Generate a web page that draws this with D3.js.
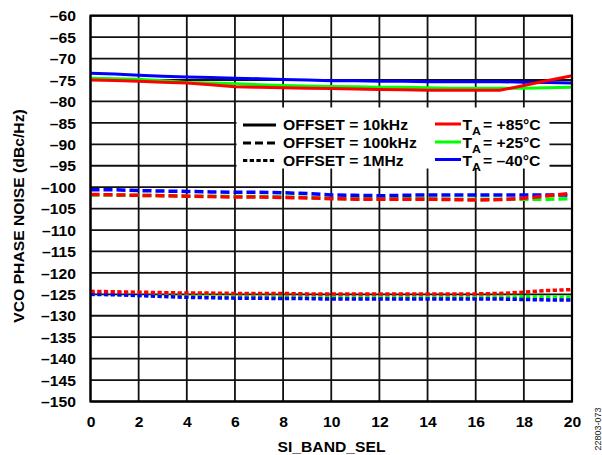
<!DOCTYPE html>
<html><head><meta charset="utf-8">
<script src="https://cdn.jsdelivr.net/npm/d3@7"></script>
<style>body{margin:0;background:#fff}svg{display:block}</style>
</head><body>
<script>
const xValues = d3.range(0, 21);
const xTicks = [0,2,4,6,8,10,12,14,16,18,20];
const yTicks = d3.range(-150, -59, 5);

// OFFSET = 10kHz (solid)
const s10k_85 = [-75.0,-75.1,-75.3,-75.5,-75.7,-76.1,-76.6,-76.7,-76.8,-76.9,-77.0,-77.1,-77.2,-77.3,-77.4,-77.4,-77.4,-77.4,-76.3,-75.1,-74.0];
const s10k_25 = [-74.6,-74.7,-74.8,-75.2,-75.6,-75.7,-75.9,-76.1,-76.3,-76.4,-76.5,-76.6,-76.7,-76.7,-76.8,-76.9,-76.9,-76.9,-76.9,-76.8,-76.7];
const s10k_m40 = [-73.4,-73.6,-73.9,-74.1,-74.3,-74.4,-74.6,-74.7,-74.9,-75.0,-75.2,-75.2,-75.3,-75.3,-75.4,-75.4,-75.4,-75.4,-75.5,-75.6,-75.7];
// OFFSET = 100kHz (dashed)
const s100k_85 = [-101.7,-101.8,-101.9,-102.0,-102.1,-102.2,-102.3,-102.3,-102.4,-102.5,-102.7,-102.8,-102.8,-102.8,-102.8,-102.9,-103.0,-102.9,-102.6,-102.0,-101.4];
const s100k_25 = [-101.8,-101.8,-101.9,-102.0,-102.1,-102.1,-102.2,-102.2,-102.3,-102.4,-102.6,-102.7,-102.7,-102.7,-102.7,-102.8,-102.8,-102.8,-102.8,-102.8,-102.7];
const s100k_m40 = [-100.6,-100.6,-100.8,-100.9,-101.0,-101.1,-101.2,-101.2,-101.3,-101.5,-101.8,-101.9,-102.0,-101.9,-101.8,-101.8,-101.8,-101.8,-101.8,-101.8,-101.8];
// OFFSET = 1MHz (dotted)
const s1M_85 = [-124.3,-124.4,-124.5,-124.6,-124.7,-124.7,-124.8,-124.8,-124.8,-124.9,-124.9,-124.9,-124.9,-124.9,-124.9,-124.9,-124.9,-124.8,-124.5,-124.1,-123.9];
const s1M_25 = [-124.9,-125.0,-125.1,-125.2,-125.3,-125.3,-125.4,-125.4,-125.4,-125.5,-125.5,-125.5,-125.5,-125.5,-125.5,-125.5,-125.5,-125.5,-125.5,-125.6,-125.6];
const s1M_m40 = [-125.0,-125.1,-125.3,-125.5,-125.7,-125.8,-125.9,-125.9,-126.0,-126.0,-126.1,-126.1,-126.1,-126.1,-126.1,-126.1,-126.1,-126.1,-126.2,-126.3,-126.3];

const seriesColors = {"85":"#ff0000","25":"#00ff00","m40":"#0000ff"};
const offsetLabels = ["OFFSET = 10kHz","OFFSET = 100kHz","OFFSET = 1MHz"];
const tempLabels = ["= +85°C","= +25°C","= \u201340°C"];

const W = 602, H = 455;
const svg = d3.select("body").append("svg").attr("width", W).attr("height", H);
const x = d3.scaleLinear().domain([0,20]).range([90.5, 572]);
const y = d3.scaleLinear().domain([-150,-60]).range([401.5, 15.7]);
const FONT = "'Liberation Sans', Arial, sans-serif";
const SX = 1.12;

function txt(g, px, py, s, anchor, size, weight) {
  return g.append("text").attr("transform", `translate(${px},${py}) scale(${SX},1)`)
    .attr("text-anchor", anchor).attr("font-family", FONT)
    .attr("font-size", size).attr("font-weight", weight || "bold").attr("fill", "#000").text(s);
}

// grid
const grid = svg.append("g");
grid.selectAll("line.v").data(xTicks).join("line")
  .attr("x1", d => x(d)).attr("x2", d => x(d)).attr("y1", y(-60)).attr("y2", y(-150))
  .attr("stroke", "#111").attr("stroke-width", 1.8);
grid.selectAll("line.h").data(yTicks).join("line")
  .attr("x1", x(0)).attr("x2", x(20)).attr("y1", d => y(d)).attr("y2", d => y(d))
  .attr("stroke", "#111").attr("stroke-width", 1.8);

// axes labels via d3 axes (no lines)
const yAxis = svg.append("g").attr("transform", `translate(${x(0)},0)`)
  .call(d3.axisLeft(y).tickValues(yTicks).tickSize(0).tickFormat(d => ""));
yAxis.select(".domain").remove();
yAxis.selectAll(".tick").each(function(d){
  txt(d3.select(this), -14.5, 5.2, String(d).replace("-", "\u2013"), "end", 14);
});
const xAxis = svg.append("g").attr("transform", `translate(0,${y(-150)})`)
  .call(d3.axisBottom(x).tickValues(xTicks).tickSize(0).tickFormat(d => ""));
xAxis.select(".domain").remove();
xAxis.selectAll(".tick").each(function(d){
  txt(d3.select(this), 0, 25.5, String(d), "middle", 14);
});

// axis titles
txt(svg, 331.5, 451.5, "SI_BAND_SEL", "middle", 14);
svg.append("text").attr("transform", "translate(24,216) rotate(-90) scale(1.12,1)")
  .attr("text-anchor", "middle").attr("font-family", FONT).attr("font-size", 14)
  .attr("font-weight", "bold").text("VCO PHASE NOISE (dBc/Hz)");
svg.append("text").attr("transform", "translate(601,429) rotate(-90)")
  .attr("text-anchor", "middle").attr("font-family", FONT).attr("font-size", 9)
  .attr("fill", "#222").text("22803-073");

// data lines
const line = d3.line().x((d,i) => x(xValues[i])).y(d => y(d));
const series = [
  {data: s10k_85, c: "85", dash: null}, {data: s10k_25, c: "25", dash: null}, {data: s10k_m40, c: "m40", dash: null},
  {data: s100k_85, c: "85", dash: "9,4"}, {data: s100k_25, c: "25", dash: "9,4"}, {data: s100k_m40, c: "m40", dash: "9,4"},
  {data: s1M_85, c: "85", dash: "4.3,2.4"}, {data: s1M_25, c: "25", dash: "4.3,2.4"}, {data: s1M_m40, c: "m40", dash: "4.3,2.4"}
];
const order = [1,2,0,4,5,3,7,8,6];
order.forEach(k => {
  const s = series[k];
  svg.append("path").datum(s.data).attr("d", line).attr("fill", "none")
    .attr("stroke", seriesColors[s.c]).attr("stroke-width", s.dash ? 3.5 : 3)
    .attr("stroke-dasharray", s.dash);
});

// legend
const lg = svg.append("g");
lg.append("rect").attr("x", 236.5).attr("y", 107.5).attr("width", 313).attr("height", 61).attr("fill", "#fff");
const rows = [125, 143, 160.5];
const dashes = [null, "8,4", "4.3,2.4"];
rows.forEach((ry, i) => {
  lg.append("line").attr("x1", 243).attr("x2", 276).attr("y1", ry).attr("y2", ry)
    .attr("stroke", "#000").attr("stroke-width", 3).attr("stroke-dasharray", dashes[i]);
  txt(lg, 283, ry + 5.2, offsetLabels[i], "start", 14);
  const col = [seriesColors["85"], seriesColors["25"], seriesColors["m40"]][i];
  lg.append("line").attr("x1", 435).attr("x2", 461).attr("y1", ry - 1).attr("y2", ry - 1)
    .attr("stroke", col).attr("stroke-width", 3);
  txt(lg, 462.5, ry + 5.2, "T", "start", 14);
  txt(lg, 472, ry + 10, "A", "start", 11);
  txt(lg, 483, ry + 5.2, tempLabels[i], "start", 14);
});

// plot border
svg.append("rect").attr("x", x(0)).attr("y", y(-60)).attr("width", x(20) - x(0)).attr("height", y(-150) - y(-60))
  .attr("fill", "none").attr("stroke", "#000").attr("stroke-width", 2.2);
</script>
</body></html>
